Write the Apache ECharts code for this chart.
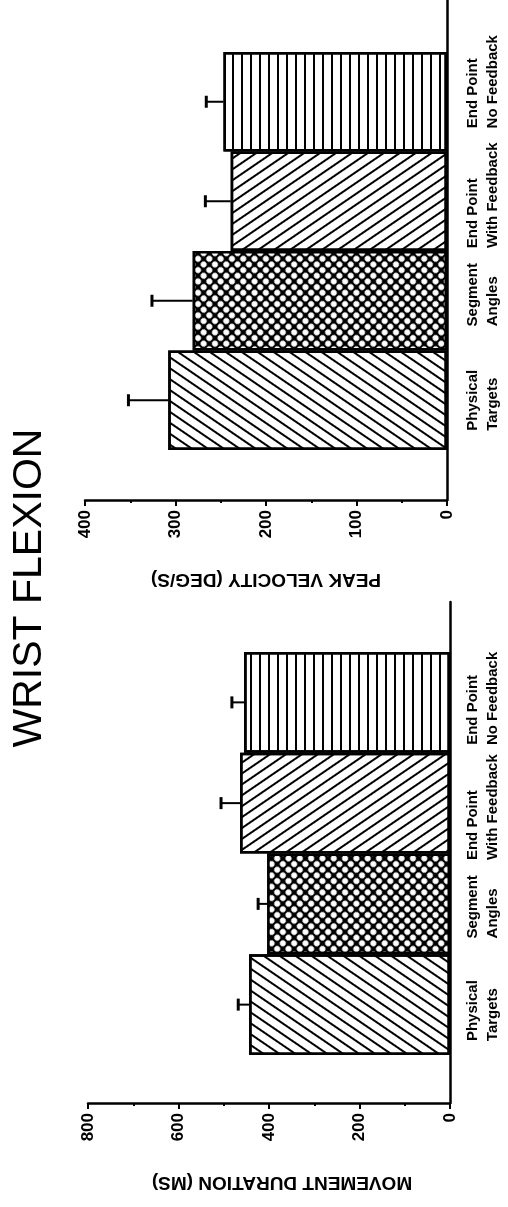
<!DOCTYPE html>
<html>
<head>
<meta charset="utf-8">
<script src="https://cdn.jsdelivr.net/npm/echarts@6/dist/echarts.min.js"></script>
<style>
  html, body { margin: 0; padding: 0; background: #fff; }
  #chart { width: 508px; height: 1207px; }
</style>
</head>
<body>
<div id="chart"></div>
<script>
// Wrist flexion: mean movement duration and peak velocity per targeting condition
const chartTitle = 'WRIST FLEXION';
const categories = ['Physical\nTargets', 'Segment\nAngles', 'End Point\nWith Feedback', 'End Point\nNo Feedback'];

const velocityMeans = [308, 281, 239, 247];
const velocityErrors = [44, 45, 28, 19];
const velocityTicks = [0, 100, 200, 300, 400];
const velocityName = 'PEAK VELOCITY (DEG/S)';

const durationMeans = [444, 404, 464, 455];
const durationErrors = [24, 20, 42, 27];
const durationTicks = [0, 200, 400, 600, 800];
const durationName = 'MOVEMENT DURATION (MS)';

const FONT = '"Liberation Sans", Arial, Helvetica, sans-serif';
const INK = '#000';
const LABEL_SIZE = 15;

// hatch fills, one per condition
const stripes = (rot) => ({
  symbol: 'rect', symbolSize: 1, dashArrayX: [1, 0], dashArrayY: [2, 7],
  rotation: rot, color: INK
});
const barStyles = [
  { color: '#fff', decal: stripes(0.6) },
  { color: INK, decal: { symbol: 'circle', symbolSize: 1, dashArrayX: [6, 2], dashArrayY: [6, 2], rotation: Math.PI / 4, color: '#fff' } },
  { color: '#fff', decal: stripes(-0.6) },
  { color: '#fff', decal: stripes(Math.PI / 2) }
];

// category labels: lines flush on one side, each block nudged along its bar
const measureCtx = document.createElement('canvas').getContext('2d');
measureCtx.font = 'bold ' + LABEL_SIZE + 'px ' + FONT;
const labelRich = {};
const labelText = {};
categories.forEach((cat, i) => {
  const lines = cat.split('\n');
  const widths = lines.map(l => measureCtx.measureText(l).width);
  const maxW = Math.max.apply(null, widths);
  labelText[cat] = lines.map((l, j) => {
    const key = 'c' + i + 'l' + j;
    labelRich[key] = {
      fontSize: LABEL_SIZE, fontWeight: 'bold', color: INK, fontFamily: FONT, lineHeight: 20,
      padding: [0, Math.round(maxW - widths[j]), 0, 0]
    };
    return '{' + key + '|' + l + '}';
  }).join('\n');
});
function categoryData(shifts) {
  return categories.map((c, i) => ({
    value: c,
    textStyle: { padding: shifts[i] >= 0 ? [0, 0, 0, 2 * shifts[i]] : [0, -2 * shifts[i], 0, 0] }
  }));
}

function tickAxis(gridIndex, ticks, name, nameShift) {
  return {
    gridIndex, type: 'value', inverse: true,
    min: ticks[0], max: ticks[ticks.length - 1], interval: ticks[1] - ticks[0],
    axisLine: { show: true, lineStyle: { color: INK, width: 2.5 } },
    axisTick: { show: true, length: 6, lineStyle: { color: INK, width: 2 } },
    minorTick: { show: true, splitNumber: 2, length: 3, lineStyle: { color: INK, width: 2 } },
    splitLine: { show: false },
    axisLabel: { rotate: 90, margin: 10, fontSize: 17, fontWeight: 'bold', color: INK, fontFamily: FONT },
    name, nameLocation: 'middle', nameGap: 70, nameRotate: 180,
    nameTextStyle: { fontSize: 19, fontWeight: 'bold', color: INK, fontFamily: FONT, padding: [0, nameShift, 0, 0] }
  };
}
function hiddenValueAxis(gridIndex, ticks) {
  return { gridIndex, type: 'value', inverse: true, min: ticks[0], max: ticks[ticks.length - 1], show: false };
}
function spineAxis(gridIndex) {
  return {
    gridIndex, type: 'value', position: 'right', min: 0, max: 1,
    axisLine: { show: true, lineStyle: { color: INK, width: 2.5 } },
    axisTick: { show: false }, axisLabel: { show: false }, splitLine: { show: false }
  };
}
function categoryAxis(gridIndex, margin, shifts) {
  return {
    gridIndex, type: 'category', data: categoryData(shifts), position: 'right',
    axisLine: { show: false }, axisTick: { show: false },
    axisLabel: {
      rotate: 90, margin, interval: 0,
      formatter: (v) => labelText[v],
      rich: labelRich
    }
  };
}
function barSeries(axisIndex, means) {
  return {
    type: 'bar', xAxisIndex: axisIndex, yAxisIndex: axisIndex, barCategoryGap: '0%',
    data: means.map((v, i) => ({ value: v, itemStyle: Object.assign({ borderColor: INK, borderWidth: 2.5 }, barStyles[i]) })),
    silent: true, z: 2
  };
}
function errorSeries(axisIndex, means, errs) {
  return {
    type: 'custom', xAxisIndex: axisIndex, yAxisIndex: axisIndex, z: 5, silent: true,
    data: means.map((m, i) => [m, i, m + errs[i]]),
    encode: { x: [0, 2], y: 1 },
    renderItem(params, api) {
      const idx = api.value(1);
      const base = api.coord([api.value(0), idx]);
      const tip = api.coord([api.value(2), idx]);
      return {
        type: 'group', children: [
          { type: 'line', shape: { x1: base[0], y1: base[1], x2: tip[0], y2: tip[1] }, style: { stroke: INK, lineWidth: 2 } },
          { type: 'line', shape: { x1: tip[0], y1: tip[1] - 6, x2: tip[0], y2: tip[1] + 6 }, style: { stroke: INK, lineWidth: 3 } }
        ]
      };
    }
  };
}

const chart = echarts.init(document.getElementById('chart'), null, { renderer: 'canvas' });
const gridBase = { containLabel: false, outerBoundsMode: 'none' };
chart.setOption({
  backgroundColor: '#fff',
  animation: false,
  grid: [
    Object.assign({ left: 85, right: 61, top: 0, height: 500 }, gridBase),    // velocity axes
    Object.assign({ left: 85, right: 61, top: 52, height: 398 }, gridBase),   // velocity bars
    Object.assign({ left: 88, right: 58, top: 602, height: 501 }, gridBase),  // duration axes
    Object.assign({ left: 88, right: 58, top: 652, height: 403 }, gridBase)   // duration bars
  ],
  xAxis: [
    tickAxis(0, velocityTicks, velocityName, 0),
    hiddenValueAxis(1, velocityTicks),
    tickAxis(2, durationTicks, durationName, 26),
    hiddenValueAxis(3, durationTicks)
  ],
  yAxis: [
    spineAxis(0),
    categoryAxis(1, 16, [0, 6, 6, 20]),
    spineAxis(2),
    categoryAxis(3, 13, [-6, -3, -4, 4])
  ],
  series: [
    barSeries(1, velocityMeans),
    errorSeries(1, velocityMeans, velocityErrors),
    barSeries(3, durationMeans),
    errorSeries(3, durationMeans, durationErrors)
  ],
  graphic: [{
    type: 'text', x: 30, y: 588, rotation: Math.PI / 2,
    style: { text: chartTitle, fontSize: 41, fontFamily: FONT, fill: INK, align: 'center', verticalAlign: 'middle' }
  }]
});
</script>
</body>
</html>
